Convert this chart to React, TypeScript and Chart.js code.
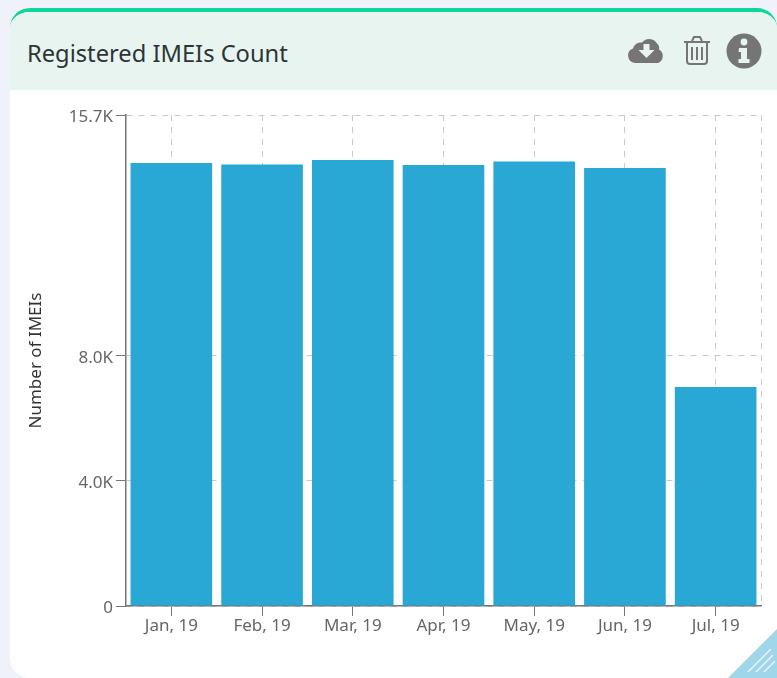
import React, { useEffect, useRef } from "react";
import { Chart, registerables } from "chart.js";

Chart.register(...registerables);

const categories = ["Jan, 19", "Feb, 19", "Mar, 19", "Apr, 19", "May, 19", "Jun, 19", "Jul, 19"];
const imeiCounts = [14165, 14120, 14262, 14100, 14215, 14005, 7005];
const yTickValues = [0, 4000, 8000, 15700];
const yTickLabels = ["0", "4.0K", "8.0K", "15.7K"];

const FONT = "'Noto Sans', 'Open Sans', sans-serif";
const GRID = "#c9c9c9";
const AXIS = "#777777";
const TEXT = "#666666";

const rightEdge = {
  id: "rightEdge",
  beforeDatasetsDraw(chart: any) {
    const { ctx, chartArea } = chart;
    ctx.save();
    ctx.strokeStyle = GRID;
    ctx.setLineDash([6, 6]);
    ctx.lineWidth = 1;
    ctx.beginPath();
    ctx.moveTo(chartArea.right + 0.5, chartArea.top);
    ctx.lineTo(chartArea.right + 0.5, chartArea.bottom);
    ctx.stroke();
    ctx.restore();
  },
};

export default function App() {
  const ref = useRef<HTMLCanvasElement>(null);
  useEffect(() => {
    const chart = new Chart(ref.current!, {
      type: "bar",
      data: {
        labels: categories,
        datasets: [
          {
            label: "Number of IMEIs",
            data: imeiCounts,
            backgroundColor: "#29a7d5",
            categoryPercentage: 0.9,
            barPercentage: 1,
          },
        ],
      },
      plugins: [rightEdge],
      options: {
        animation: false,
        responsive: false,
        layout: { padding: { left: 0, top: 115, right: 16, bottom: 11 } },
        plugins: { legend: { display: false }, tooltip: { enabled: false } },
        scales: {
          x: {
            grid: { offset: false, color: GRID, tickColor: AXIS, tickLength: 10, lineWidth: 1 },
            border: { color: AXIS, dash: [6, 6], width: 1.5 },
            ticks: { color: TEXT, font: { family: FONT, size: 17 }, padding: 0, maxRotation: 0 },
            afterFit(scale: any) {
              scale.height = 61;
            },
          },
          y: {
            min: 0,
            max: 15700,
            afterBuildTicks(scale: any) {
              scale.ticks = yTickValues.map((value) => ({ value }));
            },
            grid: { color: GRID, tickColor: AXIS, tickLength: 10, lineWidth: 1 },
            border: { color: AXIS, dash: [6, 6], width: 1.5 },
            ticks: {
              color: TEXT,
              font: { family: FONT, size: 17 },
              padding: 3,
              labelOffset: 2,
              callback: (v: any) => yTickLabels[yTickValues.indexOf(Number(v))],
            },
            title: {
              display: true,
              text: "Number of IMEIs",
              color: "#333333",
              font: { family: FONT, size: 17, weight: "normal" },
              padding: { top: 26, bottom: 0 },
            },
            afterFit(scale: any) {
              scale.width = 126;
            },
          },
        },
      },
    } as any);
    return () => chart.destroy();
  }, []);

  return (
    <div style={{ position: "fixed", left: 0, top: 0, width: 777, height: 678, overflow: "hidden", background: "#eff2f8" }}>
      <div
        style={{
          position: "absolute",
          left: 10,
          top: 8,
          width: 767,
          height: 670,
          background: "#ffffff",
          borderTop: "4px solid #0fd69b",
          borderRadius: 20,
          boxSizing: "border-box",
          overflow: "hidden",
        }}
      >
        <div style={{ position: "absolute", left: 0, top: 0, width: 767, height: 78, background: "#e8f4f0" }} />
        <div
          style={{
            position: "absolute",
            left: 17,
            top: 26,
            fontFamily: FONT,
            fontSize: 23.7,
            lineHeight: "30px",
            color: "#2d3436",
            whiteSpace: "nowrap",
          }}
        >
          Registered IMEIs Count
        </div>
      </div>

      <svg style={{ position: "absolute", left: 0, top: 0 }} width={777} height={678}>
        {/* cloud download */}
        <path
          d="M635 63 a7.5 7.5 0 0 1 -2 -14.5 a8 8 0 0 1 9 -6 a9 9 0 0 1 15 1 a6 6 0 0 1 2 6 a7.5 7.5 0 0 1 -1 13.5 z"
          fill="#757575"
        />
        <path d="M643.5 44 h6 v6 h5 l-8 8 l-8 -8 h5 z" fill="#e8f4f0" />
        {/* trash */}
        <g fill="none" stroke="#757575" strokeWidth="2">
          <path d="M684 42 h26" />
          <path d="M692 41 l2 -4 h6 l2 4" />
          <path d="M687 43 v18 a3 3 0 0 0 3 3 h14 a3 3 0 0 0 3 -3 v-18" />
          <path d="M692 47 v13 M697 47 v13 M702 47 v13" />
        </g>
        {/* info */}
        <circle cx="744" cy="51" r="17.5" fill="#757575" />
        <circle cx="744" cy="42" r="3.4" fill="#e8f4f0" />
        <path d="M739 48 h8 v11 h2.5 v4 h-11 v-4 h2.5 v-7 h-2.5 z" fill="#e8f4f0" />
        {/* resize handle */}
        <path d="M728 678 L777 629 V678 Z" fill="#9fd6ea" />
        <path d="M748 672 L771 649 M756 672 L773 655 M764 672 L775 661" stroke="#e6f5fa" strokeWidth="1.5" />
      </svg>

      <canvas ref={ref} width={777} height={678} style={{ position: "absolute", left: 0, top: 0, display: "block" }} />
    </div>
  );
}
